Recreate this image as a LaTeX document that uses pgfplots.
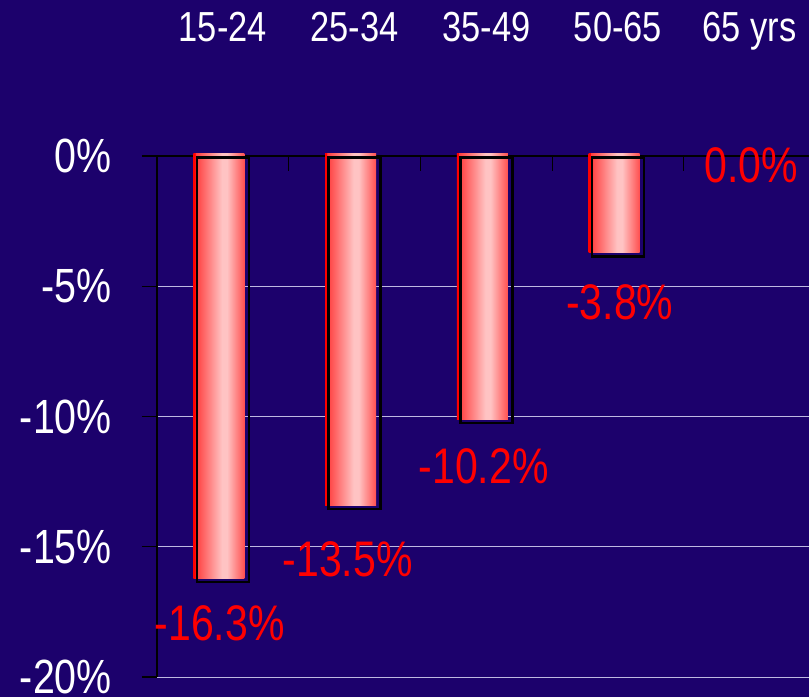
\documentclass[border=0pt]{standalone}
\usepackage{fontspec}
\setmainfont[FakeStretch=0.82]{Liberation Sans}
\usepackage{pgfplots}
\pgfplotsset{compat=1.18}
\usepackage{pgfplotstable}

\definecolor{bg}{RGB}{28,1,108}
\definecolor{gridc}{RGB}{190,185,225}
\definecolor{labred}{RGB}{255,0,0}
\definecolor{c0}{RGB}{255,0,0}
\definecolor{r1}{RGB}{255,60,60}
\definecolor{pk}{RGB}{255,195,195}
\definecolor{r2}{RGB}{255,80,80}

\pgfdeclarehorizontalshading{barshade}{100bp}{color(0bp)=(c0); color(25bp)=(c0); color(26.5bp)=(c0); color(27bp)=(r1); color(53bp)=(pk); color(58bp)=(pk); color(75bp)=(r2); color(100bp)=(r2)}

\pgfplotstableread{
x y dx dy lab
0 -16.3 -3.3 -42.5 -16.3
1 -13.5 -7 -52 -13.5
2 -10.2 -2.7 -45 -10.2
3 -3.8 1.7 -47 -3.8
4 0.0 1.5 -9.5 0.0
}\data

\pgfplotsset{
  redbar/.style={ybar, bar width=51pt, bar shift=-4pt, draw=none, shade, shading=barshade, yshift=2.5pt},
}

\begin{document}
\begin{tikzpicture}
\fill[bg] (-157pt,-20pt) rectangle (652pt,677pt);
\begin{axis}[
  at={(0,0)}, anchor=south west,
  scale only axis, width=652pt, height=521pt,
  xmin=-0.5, xmax=4.45, ymin=-20, ymax=0,
  clip=false,
  axis x line*=top, axis y line*=left,
  axis line style={black, line width=1.3pt},
  tick align=inside, major tick length=15pt,
  xtick={0.5,1.5,2.5,3.5}, xticklabels={,,,},
  xtick style={black, line width=1.2pt},
  ytick={-20,-15,-10,-5,0},
  yticklabels={-20\%,-15\%,-10\%,-5\%,0\%},
  ytick style={black, line width=1.2pt, xshift=-15pt},
  yticklabel style={anchor=east, inner sep=0pt, xshift=-45pt, text=white, font=\fontsize{48}{48}\selectfont},
  extra x ticks={0,1,2,3,4},
  extra x tick labels={15-24,25-34,35-49,50-65,65 yrs},
  extra x tick style={major tick length=0pt, tick style={draw=none},
    xticklabel style={anchor=base, inner sep=0pt, yshift=114pt, text=white, font=\fontsize{42}{42}\selectfont}},
  ymajorgrids, grid style={gridc, line width=1pt},
]
\addplot[redbar, restrict x to domain=-0.1:0.1] table[x=x, y=y] {\data};
\addplot[redbar, restrict x to domain=0.9:1.1] table[x=x, y=y] {\data};
\addplot[redbar, restrict x to domain=1.9:2.1] table[x=x, y=y] {\data};
\addplot[redbar, restrict x to domain=2.9:3.1] table[x=x, y=y] {\data};
\addplot[ybar, bar width=52pt, bar shift=0pt, draw=black, line width=2.5pt, fill=none, yshift=-1.5pt]
  table[x=x, y=y, skip coords between index={4}{5}] {\data};
\addplot[only marks, mark=*, mark size=0pt, mark options={draw=none, fill=none},
  point meta=explicit symbolic,
  visualization depends on={\thisrow{dx}\as\dx},
  visualization depends on={\thisrow{dy}\as\dy},
  nodes near coords={\pgfplotspointmeta\%},
  every node near coord/.append style={anchor=center, inner sep=0pt, xshift=\dx pt, yshift=\dy pt, text=labred, font=\fontsize{50}{50}\selectfont}]
  table[x=x, y=y, meta=lab] {\data};
\end{axis}
\pgfresetboundingbox
\useasboundingbox (-157pt,-20pt) rectangle (652pt,677pt);
\end{tikzpicture}
\end{document}
